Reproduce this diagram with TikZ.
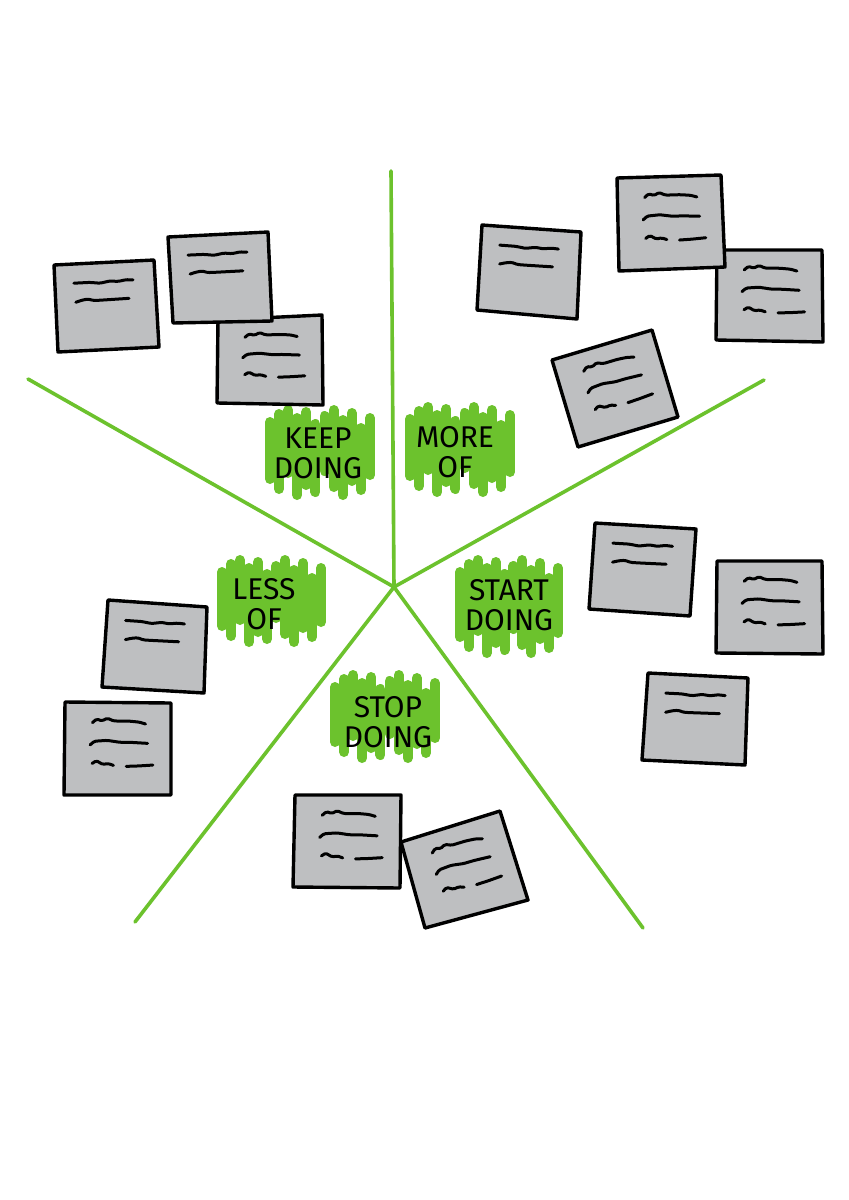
\documentclass[tikz,border=0pt]{standalone}
\usepackage{fontspec}
\setmainfont{Fira Sans}
\usetikzlibrary{calc}
\definecolor{grn}{RGB}{108,194,45}
\definecolor{notegray}{RGB}{190,191,193}
\tikzset{
  divider/.style={grn, line width=3.6pt, line cap=round},
  hatchstroke/.style={grn, line width=10pt, line cap=round},
  notebox/.style={fill=notegray, draw=black, line width=3.4pt, line join=round},
  scribble/.style={black, line width=3pt, line cap=round, line join=round, rounded corners=1.5pt},
  lbl/.style={font=\fontsize{30}{30}\selectfont, align=center, inner sep=0pt, text=black},
}
\newcommand\setpts[3]{%
  \foreach \u/\v [count=\k] in {#3} {\coordinate (#1-#2\k) at ($($(#1-tl)!\u!(#1-tr)$)!\v!($(#1-bl)!\u!(#1-br)$)$);}%
}
\newcommand\scrib[4]{%
  \setpts{#1}{#2}{#3}%
  \draw[scribble] (#1-#21) \foreach \k in {2,...,#4} { -- (#1-#2\k)};%
}
\newcommand\twolines[1]{%
  \scrib{#1}{a}{0.19/0.22,0.35/0.22,0.45/0.235,0.55/0.215,0.63/0.225,0.71/0.21,0.78/0.215}{7}%
  \scrib{#1}{b}{0.20/0.44,0.26/0.42,0.32/0.41,0.38/0.43,0.45/0.43,0.73/0.425}{6}%
}
\newcommand\threelines[1]{%
  \scrib{#1}{a}{0.26/0.22,0.30/0.18,0.35/0.20,0.40/0.17,0.46/0.20,0.60/0.20,0.70/0.21,0.76/0.23}{8}%
  \scrib{#1}{b}{0.24/0.46,0.28/0.42,0.40/0.41,0.52/0.43,0.62/0.43,0.78/0.44}{6}%
  \scrib{#1}{c}{0.26/0.66,0.30/0.63,0.36/0.67,0.41/0.66,0.46/0.68}{5}%
  \scrib{#1}{d}{0.58/0.69,0.70/0.685,0.83/0.675}{3}%
}
\newcommand\stickynote[6]{%
  \coordinate (#1-tl) at (#2); \coordinate (#1-tr) at (#3);
  \coordinate (#1-br) at (#4); \coordinate (#1-bl) at (#5);
  \draw[notebox] (#1-tl) -- (#1-tr) -- (#1-br) -- (#1-bl) -- cycle;
  \ifnum#6=2 \twolines{#1}\else\threelines{#1}\fi
}
\newcommand\hatch[4]{%
  \foreach \t/\b [count=\i from 0] in {12/16,4/6,0/22,8/0,2/10,14/3,6/24,0/8,10/0,3/14,18/5,8/20} {
    \pgfmathsetmacro\xx{#1+5+\i*(#3-#1-10)/11}
    \draw[hatchstroke] (\xx,#2+5+\t) -- (\xx,#4-5-\b);
  }%
}
\begin{document}
\begin{tikzpicture}[x=1pt,y=-1pt]
\useasboundingbox[fill=white] (0,0) rectangle (849,1200);
% dividers
\coordinate (c) at (394,587);
\coordinate (eT) at (391,171);
\coordinate (eUL) at (28,379);
\coordinate (eUR) at (764,380);
\coordinate (eLL) at (135,922);
\coordinate (eLR) at (643,928);
\foreach \e in {eT,eUL,eUR,eLL,eLR} \draw[divider] (\e) -- (c);
% green label backgrounds
\hatch{265}{405}{375}{500}
\hatch{405}{402}{515}{497}
\hatch{217}{555}{326}{647}
\hatch{455}{555}{563}{658}
\hatch{330}{670}{440}{763}
% labels
\node[lbl] (keep) at (318,453) {KEEP\\DOING};
\node[lbl] (more) at (455,452) {MORE\\OF};
\node[lbl] (less) at (264,604) {LESS\\OF};
\node[lbl] (start) at (509,605) {START\\DOING};
\node[lbl] (stop) at (388,722) {STOP\\DOING};
% sticky notes
\stickynote{kdA}{54,265}{154,260}{159,347}{58,352}{2}
\stickynote{kdC}{218,320}{322,315}{323,405}{217,403}{3}
\stickynote{kdB}{168,237}{268,232}{272,321}{173,323}{2}
\stickynote{moC}{717,250}{822,250}{823,342}{716,340}{3}
\stickynote{moB}{617,178}{721,175}{725,267}{619,271}{3}
\stickynote{moA}{482,225}{581,232}{577,319}{477,310}{2}
\stickynote{moD}{552,360}{652,330}{678,417}{578,447}{3}
\stickynote{sdA}{595,523}{696,529}{690,616}{589,609}{2}
\stickynote{sdB}{717,561}{822,561}{823,654}{716,653}{3}
\stickynote{sdC}{648,673}{748,678}{745,765}{642,760}{2}
\stickynote{loA}{108,600}{207,607}{204,693}{102,687}{2}
\stickynote{loB}{65,702}{171,703}{171,795}{64,795}{3}
\stickynote{spA}{295,795}{401,795}{400,888}{293,887}{3}
\stickynote{spB}{401,842}{500,811}{528,900}{425,928}{3}
\end{tikzpicture}
\end{document}
